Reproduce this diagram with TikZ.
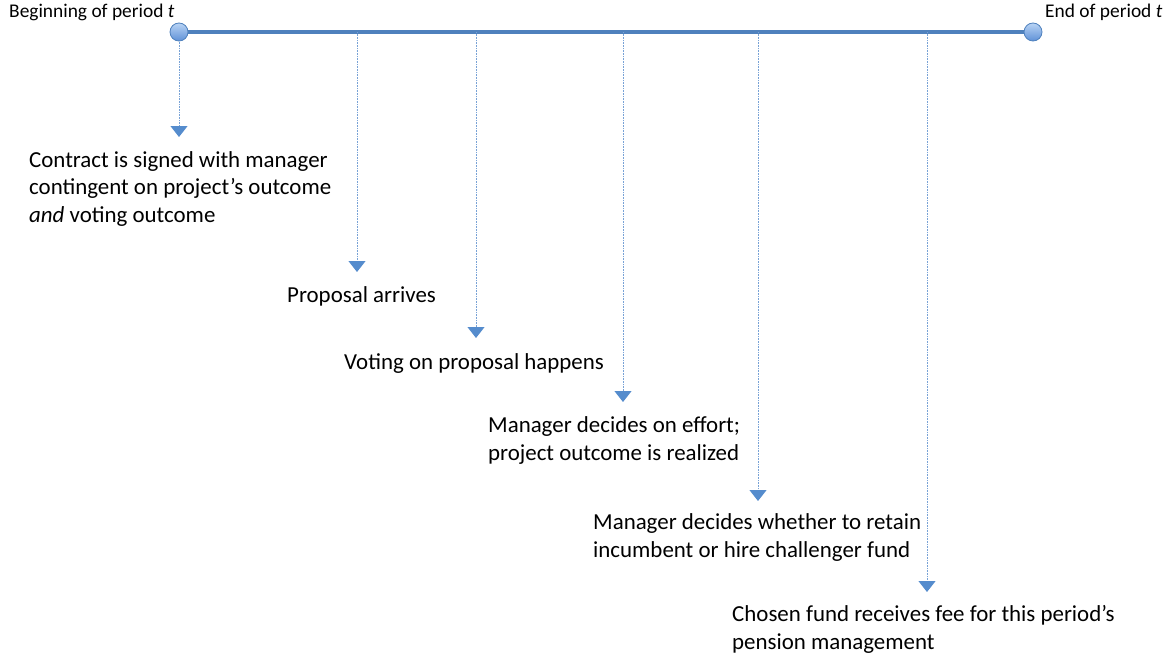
\documentclass[tikz,border=0pt]{standalone}
\usepackage{fontspec}
\setmainfont{Carlito}
\usetikzlibrary{arrows.meta,shadows}
\definecolor{lineblue}{RGB}{79,129,189}
\definecolor{dotblue}{RGB}{120,162,214}
\definecolor{tipblue}{RGB}{85,140,205}
\definecolor{circtop}{RGB}{185,212,245}
\definecolor{circbot}{RGB}{95,145,215}
\tikzset{
  evtext/.style={anchor=base west, inner sep=0pt, align=left, font=\fontsize{22.9}{27.5}\selectfont},
  endlabel/.style={anchor=base west, inner sep=0pt, font=\fontsize{19.4}{23}\selectfont},
  endpt/.style={circle, minimum size=18pt, inner sep=0pt, draw=lineblue, line width=0.8pt, top color=circtop, bottom color=circbot},
  timeline/.style={draw=lineblue, line width=4pt},
  tick/.style={draw=dotblue, line width=1pt, dash pattern=on 0.8pt off 0.8pt,
    -{Triangle[width=17pt,length=11pt,fill=tipblue,color=tipblue]}}
}
\begin{document}
\begin{tikzpicture}[x=1pt,y=-1pt]
\useasboundingbox (0,0) rectangle (1173,661);
% timeline
\coordinate (L) at (179,32);
\coordinate (R) at (1033,32);
\draw[timeline] (L) -- (R);
% ticks on timeline
\coordinate (t2) at (357,32);
\coordinate (t3) at (476,32);
\coordinate (t4) at (623,32);
\coordinate (t5) at (758,32);
\coordinate (t6) at (927,32);
% arrow tips
\coordinate (a1) at (179,137);
\coordinate (a2) at (357,272);
\coordinate (a3) at (476,338);
\coordinate (a4) at (623,402);
\coordinate (a5) at (758,501);
\coordinate (a6) at (927,592);
\draw[tick] (L) -- (a1);
\draw[tick] (t2) -- (a2);
\draw[tick] (t3) -- (a3);
\draw[tick] (t4) -- (a4);
\draw[tick] (t5) -- (a5);
\draw[tick] (t6) -- (a6);
\node[endpt] (Lc) at (L) {};
\node[endpt] (Rc) at (R) {};
% labels
\node[endlabel] (beg) at (9,18) {Beginning of period \textit{t}};
\node[endlabel] (end) at (1045,18) {End of period \textit{t}};
\node[evtext] (e1) at (29,222) {Contract is signed with manager\\contingent on project’s outcome\\\textit{and} voting outcome};
\node[evtext] (e2) at (287,302) {Proposal arrives};
\node[evtext] (e3) at (344,369) {Voting on proposal happens};
\node[evtext] (e4) at (488,460) {Manager decides on effort;\\project outcome is realized};
\node[evtext] (e5) at (593,557) {Manager decides whether to retain\\incumbent or hire challenger fund};
\node[evtext] (e6) at (732,649) {Chosen fund receives fee for this period’s\\pension management};
\end{tikzpicture}
\end{document}
